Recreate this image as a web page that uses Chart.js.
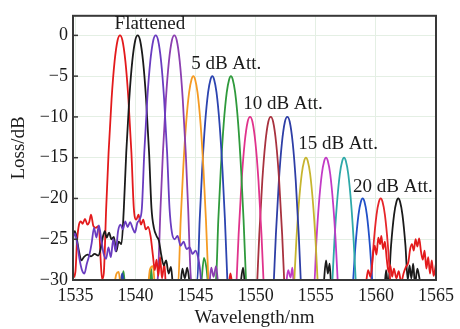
<!DOCTYPE html>
<html>
<head>
<meta charset="utf-8">
<script src="https://cdn.jsdelivr.net/npm/chart.js@4.4.1/dist/chart.umd.min.js"></script>
<style>
  html, body { margin: 0; padding: 0; background: #fff; }
  #wrap { width: 460px; height: 329px; }
</style>
</head>
<body>
<div id="wrap"><canvas id="graphique-spectre" width="460" height="329"></canvas></div>
<script>
const xTicks = [1535, 1540, 1545, 1550, 1555, 1560, 1565];
const yTicks = [0, -5, -10, -15, -20, -25, -30];

const noteTexts = ["Flattened", "5 dB Att.", "10 dB Att.", "15 dB Att.", "20 dB Att."];
const noteX = [1541.2, 1547.55, 1552.27, 1556.85, 1561.42];
const noteY = [1.34, -3.52, -8.38, -13.36, -18.58];

const redFlat = [[1534.8,-29.8],[1535.0,-29.0],[1535.15,-25.0],[1535.3,-23.2],[1535.45,-22.8],[1535.6,-23.1],[1535.8,-22.5],[1536.0,-23.2],[1536.15,-22.9],[1536.3,-22.0],[1536.5,-23.4],[1536.7,-23.6],[1536.9,-23.4],[1537.0,-24.3],[1537.1,-27.5],[1537.22,-29.9],
  [1537.36,-29.2],[1537.56,-21.2],[1537.76,-14.4],[1538.01,-7.8],[1538.26,-3.2],[1538.51,-0.6],[1538.71,0],[1538.91,-0.6],[1539.16,-3.2],[1539.41,-7.8],[1539.66,-14.4],[1539.86,-21.2],
  [1540.06,-22.6],[1540.25,-22.0],[1540.45,-23.2],[1540.65,-22.6],[1540.85,-23.8],[1541.05,-23.5],[1541.25,-24.6],[1541.45,-27.0],[1541.6,-28.8],[1541.75,-27.5],[1541.9,-29.5],[1542.05,-27.2],[1542.2,-29.8],[1542.4,-28.0],[1542.55,-31],
  [1547.7,-31],[1547.9,-29.2],[1548.1,-31],[1559.1,-31],
  [1559.35,-28.8],[1559.55,-29.6],[1559.75,-27.0],[1559.9,-25.8],[1560.05,-26.9],[1560.2,-24.8],[1560.35,-25.6],[1560.45,-24.6],[1560.6,-26.2],[1560.75,-25.3],[1560.9,-27.4],[1561.05,-29.0],[1561.2,-28.2],[1561.35,-29.6],[1561.5,-28.6],[1561.7,-29.8],[1561.9,-28.9],[1562.1,-30.3],[1562.3,-29.2],[1562.5,-28.4],[1562.7,-27.8],[1562.85,-26.2],[1563.0,-25.6],[1563.15,-26.4],[1563.3,-25.0],[1563.45,-25.9],[1563.6,-24.9],[1563.75,-26.5],[1563.9,-27.5],[1564.05,-26.4],[1564.2,-28.6],[1564.35,-27.2],[1564.5,-29.2],[1564.65,-27.6],[1564.8,-29.5],[1565,-28.0]];

const blackFlat = [[1534.8,-24.5],[1534.95,-24.0],[1535.1,-24.8],[1535.3,-26.5],[1535.5,-27.6],[1535.7,-27.2],[1536.0,-26.9],[1536.3,-27.1],[1536.6,-26.8],[1536.9,-27.0],[1537.1,-26.2],[1537.3,-24.6],[1537.45,-24.0],[1537.6,-24.8],[1537.8,-24.2],[1538.0,-25.0],[1538.2,-24.7],[1538.4,-26.5],[1538.6,-25.3],[1538.83,-25.6],
  [1539.03,-21.2],[1539.23,-14.4],[1539.48,-7.8],[1539.73,-3.2],[1539.98,-0.6],[1540.18,0],[1540.38,-0.6],[1540.63,-3.2],[1540.88,-7.8],[1541.13,-14.4],[1541.33,-21.2],
  [1541.53,-23.6],[1541.75,-24.6],[1541.95,-25.2],[1542.15,-27.0],[1542.35,-28.2],[1542.55,-27.6],[1542.75,-29.2],[1542.95,-28.4],[1543.15,-31],[1543.7,-31],[1543.9,-28.6],[1544.1,-29.8],[1544.3,-28.5],[1544.55,-31]];

const purpleFlat = [[1534.8,-25.0],[1534.95,-24.3],[1535.15,-25.5],[1535.35,-27.5],[1535.55,-28.8],[1535.75,-29.2],[1535.95,-28.0],[1536.15,-27.0],[1536.35,-25.5],[1536.55,-23.6],[1536.75,-24.8],[1536.95,-23.3],[1537.15,-25.0],[1537.35,-26.8],[1537.55,-27.4],[1537.75,-26.0],[1537.95,-27.2],[1538.15,-25.0],[1538.35,-26.5],[1538.55,-24.0],[1538.75,-23.2],[1538.95,-23.8],[1539.15,-22.8],[1539.35,-23.5],[1539.55,-22.9],[1539.75,-23.6],[1539.95,-24.2],[1540.15,-23.0],[1540.33,-22.6],
  [1540.53,-21.2],[1540.73,-14.4],[1540.98,-7.8],[1541.23,-3.2],[1541.48,-0.6],[1541.68,0],[1541.88,-0.6],[1542.13,-3.2],[1542.38,-7.8],[1542.63,-14.4],[1542.83,-21.2],
  [1543.03,-24.2],[1543.25,-25.0],[1543.5,-24.6],[1543.75,-25.8],[1544.0,-25.3],[1544.25,-26.2],[1544.5,-26.0],[1544.75,-26.8],[1545.0,-26.4],[1545.2,-27.2],[1545.35,-28.5],[1545.5,-31]];

const violetFlat = [[1541.75,-31],[1541.88,-29.2],[1542.08,-21.2],[1542.28,-14.4],[1542.53,-7.8],[1542.78,-3.2],[1543.03,-0.6],[1543.23,0],[1543.43,-0.6],[1543.68,-3.2],[1543.93,-7.8],[1544.18,-14.4],[1544.38,-21.2],[1544.58,-29.2],[1544.75,-31],
  [1546.1,-31],[1546.3,-28.5],[1546.5,-29.6],[1546.7,-28.3],[1546.9,-31]];

const orange5 = [[1538.2,-31],[1538.4,-29.3],[1538.6,-29.0],[1538.8,-31],[1541.0,-31],[1541.2,-28.7],[1541.45,-28.3],[1541.65,-31],
  [1543.56,-30],[1543.76,-22.6],[1543.96,-16.6],[1544.21,-10.8],[1544.46,-7.0],[1544.66,-5.4],[1544.81,-5],[1544.96,-5.4],[1545.16,-7.0],[1545.41,-10.8],[1545.66,-16.6],[1545.86,-22.6],[1546.06,-30]];

const blue5 = [[1538.7,-31],[1538.9,-29.2],[1539.1,-31],
  [1545.14,-30],[1545.34,-22.6],[1545.54,-16.6],[1545.79,-10.8],[1546.04,-7.0],[1546.24,-5.4],[1546.39,-5],[1546.54,-5.4],[1546.74,-7.0],[1546.99,-10.8],[1547.24,-16.6],[1547.44,-22.6],[1547.64,-30]];

const green5 = [[1538.8,-31],[1539.0,-28.9],[1539.15,-31],[1541.15,-31],[1541.3,-28.6],[1541.45,-31],[1545.4,-31],[1545.7,-27.3],[1545.9,-28.5],[1546.1,-31],
  [1546.69,-30],[1546.89,-22.6],[1547.09,-16.6],[1547.34,-10.8],[1547.59,-7.0],[1547.79,-5.4],[1547.94,-5],[1548.09,-5.4],[1548.29,-7.0],[1548.54,-10.8],[1548.79,-16.6],[1548.99,-22.6],[1549.19,-30]];

const pink10 = [[1548.41,-30.1],[1548.58,-24.4],[1548.83,-17.8],[1549.08,-13.2],[1549.33,-10.6],[1549.53,-10],[1549.73,-10.6],[1549.98,-13.2],[1550.23,-17.8],[1550.48,-24.4],[1550.65,-30.1]];
const brown10 = [[1550.13,-30.1],[1550.30,-24.4],[1550.55,-17.8],[1550.80,-13.2],[1551.05,-10.6],[1551.25,-10],[1551.45,-10.6],[1551.70,-13.2],[1551.95,-17.8],[1552.20,-24.4],[1552.37,-30.1]];
const blue10 = [[1551.51,-30.1],[1551.68,-24.4],[1551.93,-17.8],[1552.18,-13.2],[1552.43,-10.6],[1552.63,-10],[1552.83,-10.6],[1553.08,-13.2],[1553.33,-17.8],[1553.58,-24.4],[1553.75,-30.1]];

const yellow15 = [[1553.21,-30.1],[1553.38,-25.2],[1553.58,-20.8],[1553.83,-17.0],[1554.03,-15.4],[1554.18,-15],[1554.33,-15.4],[1554.53,-17.0],[1554.78,-20.8],[1554.98,-25.2],[1555.15,-30.1]];
const magenta15 = [[1552.5,-31],[1552.7,-28.8],[1552.9,-29.7],[1553.05,-28.5],[1553.2,-31],
  [1554.88,-30.1],[1555.05,-25.2],[1555.25,-20.8],[1555.50,-17.0],[1555.70,-15.4],[1555.85,-15],[1556.00,-15.4],[1556.20,-17.0],[1556.45,-20.8],[1556.65,-25.2],[1556.82,-30.1]];
const teal15 = [[1556.38,-30.1],[1556.55,-25.2],[1556.75,-20.8],[1557.00,-17.0],[1557.20,-15.4],[1557.35,-15],[1557.50,-15.4],[1557.70,-17.0],[1557.95,-20.8],[1558.15,-25.2],[1558.32,-30.1]];

const blue20 = [[1558.11,-30],[1558.30,-25.8],[1558.55,-22.0],[1558.75,-20.4],[1558.90,-20],[1559.05,-20.4],[1559.25,-22.0],[1559.50,-25.8],[1559.69,-30]];
const red20 = [[1559.61,-30],[1559.80,-25.8],[1560.05,-22.0],[1560.25,-20.4],[1560.40,-20],[1560.55,-20.4],[1560.75,-22.0],[1561.00,-25.8],[1561.19,-30]];
const black20 = [[1548.7,-31],[1548.95,-28.5],[1549.15,-31],[1555.6,-31],[1555.85,-27.6],[1556.0,-29.2],[1556.15,-28.0],[1556.3,-31],[1560.7,-31],[1560.85,-28.8],[1560.97,-30.2],
  [1561.07,-30],[1561.26,-25.8],[1561.51,-22.0],[1561.71,-20.4],[1561.86,-20],[1562.01,-20.4],[1562.21,-22.0],[1562.46,-25.8],[1562.65,-30],
  [1562.8,-28.2],[1562.95,-29.8],[1563.1,-28.0],[1563.25,-30.5],[1563.45,-28.6],[1563.6,-29.6],[1563.75,-31]];

const traces = [purpleFlat, blackFlat, redFlat, violetFlat, orange5, blue5, green5, pink10, brown10, blue10, yellow15, magenta15, teal15, blue20, red20, black20];
const traceColors = ["#6a3cc0", "#1a1a1a", "#e31a1c", "#8b3fb0", "#f59b23", "#2c44b0", "#2f9a3c", "#e0338c", "#a8323f", "#2e3ea6", "#c6b52e", "#c23ac6", "#2ea9a9", "#2150c8", "#e6262a", "#1a1a1a"];

const serif = "'Liberation Serif', 'DejaVu Serif', serif";

const habillage = {
    id: "habillage",
    afterDatasetsDraw(chart) {
        const { ctx, chartArea: a, scales } = chart;
        ctx.save();
        ctx.strokeStyle = "#383838";
        ctx.lineWidth = 2;
        ctx.strokeRect(a.left, a.top, a.right - a.left, a.bottom - a.top);
        ctx.lineWidth = 1.5;
        for (const v of yTicks) {
            const y = scales.y.getPixelForValue(v);
            ctx.beginPath();
            ctx.moveTo(a.left, y);
            ctx.lineTo(a.left + 5, y);
            ctx.stroke();
        }
        ctx.fillStyle = "#1a1a1a";
        ctx.font = "19px " + serif;
        ctx.textAlign = "center";
        ctx.textBaseline = "middle";
        for (let i = 0; i < noteTexts.length; i++) {
            ctx.fillText(noteTexts[i], scales.x.getPixelForValue(noteX[i]), scales.y.getPixelForValue(noteY[i]));
        }
        ctx.restore();
    }
};

const datasets = traces.map((t, i) => ({
    data: t.map(p => ({ x: p[0], y: p[1] })),
    borderColor: traceColors[i],
    borderWidth: 1.8,
    pointRadius: 0,
    fill: false,
    cubicInterpolationMode: "monotone"
}));

const config = {
    type: "line",
    data: { datasets: datasets },
    options: {
        responsive: false,
        animation: false,
        devicePixelRatio: 1,
        layout: { padding: { top: 13, right: 24, bottom: 0, left: 0 } },
        plugins: { legend: { display: false }, tooltip: { enabled: false } },
        scales: {
            x: {
                type: "linear",
                min: 1534.8,
                max: 1565,
                afterBuildTicks: s => { s.ticks = xTicks.map(v => ({ value: v })); },
                afterFit: s => { s.height = 49; },
                grid: { color: "#e4efe4", drawTicks: false },
                border: { display: false },
                ticks: { padding: 5, color: "#1a1a1a", font: { family: serif, size: 18 }, maxRotation: 0, callback: v => String(v) },
                title: { display: true, text: "Wavelength/nm", color: "#1a1a1a", font: { family: serif, size: 19 }, padding: { top: 0, bottom: 0 } }
            },
            y: {
                min: -30,
                max: 2.4,
                afterBuildTicks: s => { s.ticks = yTicks.map(v => ({ value: v })); },
                afterFit: s => { s.width = 73; },
                grid: { color: "#e4efe4", drawTicks: false },
                border: { display: false },
                ticks: { padding: 5, color: "#1a1a1a", font: { family: serif, size: 18 }, callback: v => v < 0 ? "\u2212" + Math.abs(v) : String(v) },
                title: { display: true, text: "Loss/dB", color: "#1a1a1a", font: { family: serif, size: 19 }, padding: { top: 8, bottom: 0 } }
            }
        }
    },
    plugins: [habillage]
};

new Chart(document.querySelector("#graphique-spectre"), config);
</script>
</body>
</html>
